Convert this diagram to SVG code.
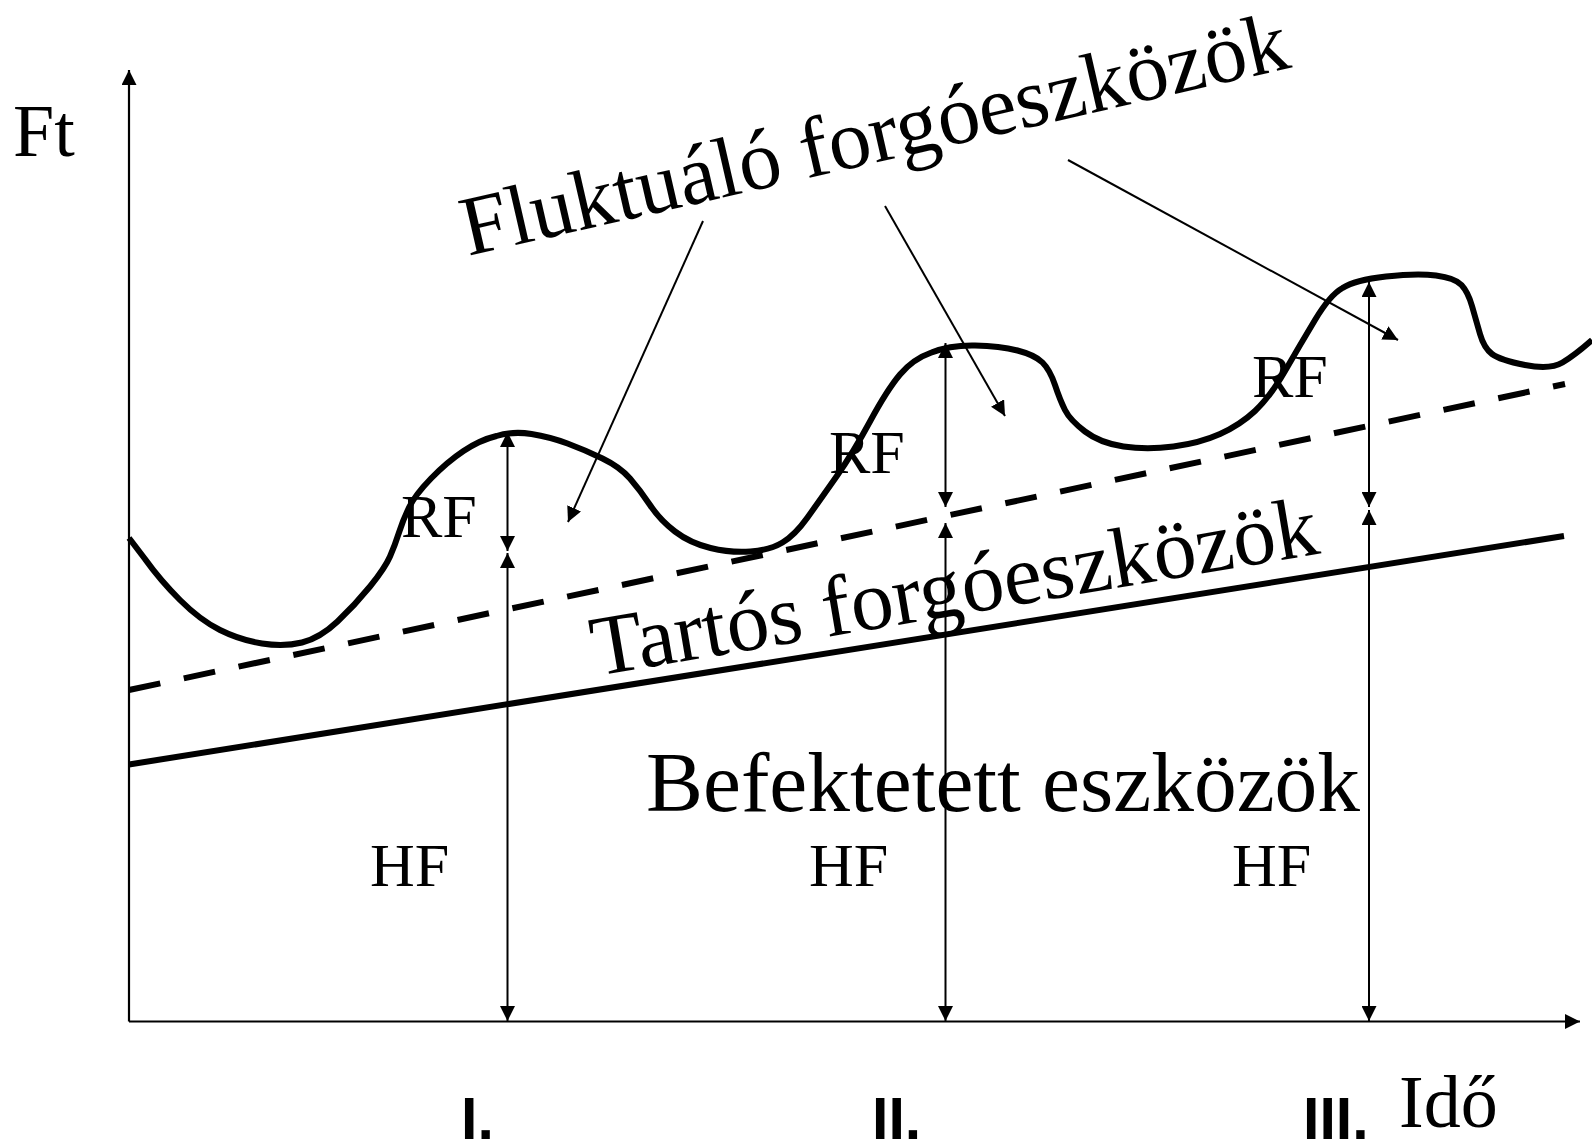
<svg xmlns="http://www.w3.org/2000/svg" width="1592" height="1143" viewBox="0 0 1592 1143">
<style>
.serif{font-family:"Liberation Serif","Times New Roman",serif;fill:#000}
.sans{font-family:"Liberation Sans",Arial,sans-serif;font-weight:bold;fill:#000}
.thin{stroke:#000;stroke-width:2;fill:none}
.axis{stroke:#000;stroke-width:2.2;fill:none}
.thick{stroke:#000;stroke-width:6;fill:none;stroke-linecap:butt}
</style>
<defs>
<marker id="ah" viewBox="0 0 10 10" refX="10" refY="5" markerWidth="15" markerHeight="15" markerUnits="userSpaceOnUse" orient="auto-start-reverse">
<path d="M0,0 L10,5 L0,10 z" fill="#000"/>
</marker>
</defs>
<rect width="1592" height="1143" fill="#fff"/>

<g id="axes">
<line class="axis" x1="129" y1="1021.5" x2="129" y2="70" marker-end="url(#ah)"/>
<line class="axis" x1="129" y1="1021.5" x2="1580" y2="1021.5" marker-end="url(#ah)"/>
</g>

<g id="befektetett-line">
<line class="thick" x1="129" y1="764.5" x2="1564" y2="536"/>
</g>
<g id="tartos-line">
<line class="thick" x1="129" y1="690" x2="1565" y2="384" stroke-dasharray="32 24" stroke-width="6.5"/>
</g>
<g id="fluktualo-curve">
<path class="thick" stroke-linejoin="round" d="M129,538 L145,559 Q160,580 180,600 Q200,620 220,630 Q240,640 262,643.5 Q284,647 302,642.5 Q320,638 337.5,621.5 Q355,605 370,586.5 Q385,568 390,556.5 Q395,545 399,532.5 Q403,520 409,507.5 Q415,495 431,478.5 Q447,462 463.5,451 Q480,440 496.5,436 Q513,431 531.5,434 Q550,437 567.5,443.5 Q585,450 602.5,458.5 Q620,467 630,478.5 Q640,490 650,505 Q660,520 675,531.5 Q690,543 710.5,548 Q731,553 750.5,551.5 Q770,550 782.5,542.5 Q795,535 807.5,517.5 Q820,500 836.5,476.5 Q853,453 870,421.5 Q887,390 900,374.5 Q913,359 931.5,352.5 Q950,345 975,345.5 Q1000,346 1017.5,350.5 Q1035,355 1042.5,362.5 Q1050,370 1055,385 Q1060,400 1065,410 Q1070,420 1085,431.5 Q1100,443 1123.5,446.5 Q1147,450 1173.5,446.5 Q1200,443 1220,434 Q1240,425 1255,411 Q1270,397 1285,371 Q1300,345 1315,320 Q1330,295 1342.5,288 Q1355,280 1386,276.5 Q1417,273 1436,275.5 Q1455,278 1461.5,285 Q1468,292 1472,306 Q1476,320 1480,334 Q1484,348 1492,354 Q1500,360 1525,365 Q1550,370 1562.5,362.5 Q1575,355 1592,340"/>
</g>

<g id="connectors">
<line class="thin" x1="507.5" y1="432" x2="507.5" y2="551" marker-start="url(#ah)" marker-end="url(#ah)"/>
<line class="thin" x1="507.5" y1="553" x2="507.5" y2="1021" marker-start="url(#ah)" marker-end="url(#ah)"/>
<line class="thin" x1="945.5" y1="343" x2="945.5" y2="507" marker-start="url(#ah)" marker-end="url(#ah)"/>
<line class="thin" x1="945.5" y1="523" x2="945.5" y2="1021" marker-start="url(#ah)" marker-end="url(#ah)"/>
<line class="thin" x1="1369" y1="282" x2="1369" y2="507" marker-start="url(#ah)" marker-end="url(#ah)"/>
<line class="thin" x1="1369" y1="510" x2="1369" y2="1021" marker-start="url(#ah)" marker-end="url(#ah)"/>
<line class="thin" x1="703" y1="221" x2="568" y2="522" marker-end="url(#ah)"/>
<line class="thin" x1="885" y1="206" x2="1005" y2="416" marker-end="url(#ah)"/>
<line class="thin" x1="1068" y1="160" x2="1398" y2="340" marker-end="url(#ah)"/>
</g>

<g id="labels">
<text class="serif" x="13" y="156" font-size="74">Ft</text>
<text class="serif" font-size="85" transform="translate(468,256) rotate(-12.9)">Fluktuáló forgóeszközök</text>
<text class="serif" font-size="85.5" transform="translate(596,676) rotate(-9.6)">Tartós forgóeszközök</text>
<text class="serif" x="646" y="811" font-size="85" textLength="714" lengthAdjust="spacingAndGlyphs">Befektetett eszközök</text>
<text class="serif" x="401" y="537" font-size="62">RF</text>
<text class="serif" x="829" y="473" font-size="62">RF</text>
<text class="serif" x="1252" y="397" font-size="62">RF</text>
<text class="serif" x="370" y="886" font-size="62">HF</text>
<text class="serif" x="809" y="886" font-size="62">HF</text>
<text class="serif" x="1232" y="886" font-size="62">HF</text>
<text class="sans" x="461" y="1139" font-size="59">I.</text>
<text class="sans" x="872" y="1139" font-size="59">II.</text>
<text class="sans" x="1303" y="1139" font-size="59">III.</text>
<text class="serif" x="1399" y="1127" font-size="74">Idő</text>
</g>
</svg>
